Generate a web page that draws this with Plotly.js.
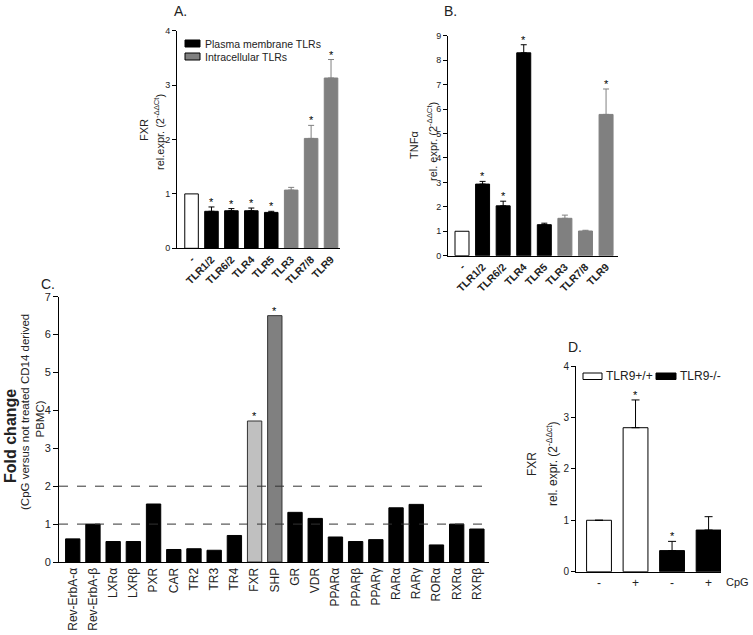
<!DOCTYPE html>
<html>
<head>
<meta charset="utf-8">
<script src="https://cdn.plot.ly/plotly-3.0.1.min.js"></script>
<style>html,body{margin:0;padding:0;background:#fff;}#chart{width:753px;height:635px;}</style>
</head>
<body>
<div id="chart"></div>
<script>
// ---------- Panel A: FXR expression after TLR agonists ----------
const aCats  = ['-', 'TLR1/2', 'TLR6/2', 'TLR4', 'TLR5', 'TLR3', 'TLR7/8', 'TLR9'];
const aVals  = [1.00, 0.68, 0.69, 0.69, 0.66, 1.07, 2.02, 3.13];
const aErr   = [0, 0.08, 0.04, 0.05, 0.02, 0.05, 0.24, 0.34];
const aGroup = [0, 1, 1, 1, 1, 2, 2, 2];
const aSig   = [0, 1, 1, 1, 1, 0, 1, 1];
const aLegend = ['Plasma membrane TLRs', 'Intracellular TLRs'];

// ---------- Panel B: TNFα expression after TLR agonists ----------
const bCats  = ['-', 'TLR1/2', 'TLR6/2', 'TLR4', 'TLR5', 'TLR3', 'TLR7/8', 'TLR9'];
const bVals  = [1.00, 2.93, 2.04, 8.30, 1.27, 1.53, 1.01, 5.78];
const bErr   = [0, 0.11, 0.19, 0.33, 0.06, 0.13, 0.03, 1.04];
const bGroup = [0, 1, 1, 1, 1, 2, 2, 2];
const bSig   = [0, 1, 1, 1, 0, 0, 0, 1];

// ---------- Panel C: nuclear receptor fold change ----------
const cCats  = ['Rev-ErbA-α', 'Rev-ErbA-β', 'LXRα', 'LXRβ', 'PXR', 'CAR', 'TR2', 'TR3', 'TR4', 'FXR', 'SHP',
                'GR', 'VDR', 'PPARα', 'PPARβ', 'PPARγ', 'RARα', 'RARγ', 'RORα', 'RXRα', 'RXRβ'];
const cVals  = [0.61, 1.00, 0.54, 0.54, 1.53, 0.33, 0.35, 0.31, 0.70, 3.72, 6.50,
                1.31, 1.15, 0.66, 0.54, 0.59, 1.43, 1.52, 0.45, 1.00, 0.87];
const cGroup = [0, 0, 0, 0, 0, 0, 0, 0, 0, 1, 2, 0, 0, 0, 0, 0, 0, 0, 0, 0, 0];
const cSig   = [0, 0, 0, 0, 0, 0, 0, 0, 0, 1, 1, 0, 0, 0, 0, 0, 0, 0, 0, 0, 0];
const cRefLines = [1, 2];

// ---------- Panel D: TLR9+/+ vs TLR9-/- ----------
const dTicks = ['-', '+', '-', '+'];
const dVals  = [1.00, 2.80, 0.41, 0.81];
const dErr   = [0, 0.54, 0.18, 0.26];
const dGroup = [0, 0, 1, 1];
const dSig   = [0, 1, 1, 0];
const dLegend = ['TLR9+/+', 'TLR9-/-'];

const FONT = 'Liberation Sans, Arial, sans-serif';
const TXT = '#222';
const W = 753, H = 635;

function idx(n){ return Array.from({length:n}, (_, i) => i); }

function groupTrace(vals, errs, groups, g, xa, ya, style){
  const xs = [], ys = [], es = [];
  vals.forEach((v, i) => { if (groups[i] === g) { xs.push(i); ys.push(v); es.push(errs ? errs[i] : 0); } });
  const t = {
    type: 'bar', x: xs, y: ys, xaxis: xa, yaxis: ya, width: style.width,
    marker: {color: style.fill, line: {color: style.line, width: 1}},
    name: style.name || '', showlegend: false, hoverinfo: 'skip'
  };
  if (errs && style.err) {
    t.error_y = {type: 'data', symmetric: false, array: es, arrayminus: es.map(() => 0),
                 color: style.err, thickness: 1, width: style.capw || 3};
  }
  return t;
}

const traces = [];
// A
traces.push(groupTrace(aVals, null, aGroup, 0, 'x', 'y', {width: 0.68, fill: '#fff', line: '#000'}));
traces.push(groupTrace(aVals, aErr, aGroup, 1, 'x', 'y', {width: 0.68, fill: '#000', line: '#000', err: '#000', name: aLegend[0]}));
traces.push(groupTrace(aVals, aErr, aGroup, 2, 'x', 'y', {width: 0.68, fill: '#808080', line: '#808080', err: '#808080', name: aLegend[1]}));
// B
traces.push(groupTrace(bVals, null, bGroup, 0, 'x2', 'y2', {width: 0.68, fill: '#fff', line: '#000'}));
traces.push(groupTrace(bVals, bErr, bGroup, 1, 'x2', 'y2', {width: 0.68, fill: '#000', line: '#000', err: '#000'}));
traces.push(groupTrace(bVals, bErr, bGroup, 2, 'x2', 'y2', {width: 0.68, fill: '#808080', line: '#808080', err: '#808080'}));
// C
traces.push(groupTrace(cVals, null, cGroup, 0, 'x3', 'y3', {width: 0.71, fill: '#000', line: '#000'}));
traces.push(groupTrace(cVals, null, cGroup, 1, 'x3', 'y3', {width: 0.71, fill: '#c0c0c0', line: '#333'}));
traces.push(groupTrace(cVals, null, cGroup, 2, 'x3', 'y3', {width: 0.71, fill: '#808080', line: '#333'}));
// D
traces.push(groupTrace(dVals, dErr, dGroup, 0, 'x4', 'y4', {width: 0.68, fill: '#fff', line: '#000', err: '#000', capw: 4, name: dLegend[0]}));
traces.push(groupTrace(dVals, dErr, dGroup, 1, 'x4', 'y4', {width: 0.68, fill: '#000', line: '#000', err: '#000', capw: 4, name: dLegend[1]}));

const annotations = [];
function stars(vals, errs, sig, xa, ya){
  vals.forEach((v, i) => {
    if (sig[i]) annotations.push({xref: xa, yref: ya, x: i, y: v + (errs ? errs[i] : 0), text: '*',
      showarrow: false, yanchor: 'bottom', yshift: -3, font: {size: 11, color: '#000', family: FONT}});
  });
}
stars(aVals, aErr, aSig, 'x', 'y');
stars(bVals, bErr, bSig, 'x2', 'y2');
stars(cVals, null, cSig, 'x3', 'y3');
stars(dVals, dErr, dSig, 'x4', 'y4');

function pt(px, py, text, opts){
  annotations.push(Object.assign({xref: 'paper', yref: 'paper', x: px / W, y: 1 - py / H, text: text,
    showarrow: false, xanchor: 'center', yanchor: 'middle', font: {size: 11, color: TXT, family: FONT}}, opts || {}));
}
// panel letters
pt(180, 11, 'A.', {font: {size: 14, color: TXT, family: FONT}});
pt(450, 11, 'B.', {font: {size: 14, color: TXT, family: FONT}});
pt(48, 284, 'C.', {font: {size: 14, color: TXT, family: FONT}});
pt(575, 347, 'D.', {font: {size: 14, color: TXT, family: FONT}});
// axis titles
pt(144, 130, 'FXR', {textangle: -90});
pt(159, 132, 'rel.expr. (2<sup>-ΔΔCt</sup>)', {textangle: -90});
pt(414, 145, 'TNFα', {textangle: -90});
pt(432, 142, 'rel. expr. (2<sup>-ΔΔCt</sup>)', {textangle: -90});
pt(10, 436, '<b>Fold change</b>', {textangle: -90, font: {size: 16, color: TXT, family: FONT}});
pt(25, 412, '(CpG versus not treated CD14 derived', {textangle: -90, font: {size: 11.5, color: TXT, family: FONT}});
pt(39, 440, 'PBMC)', {textangle: -90, yanchor: 'bottom', font: {size: 11.5, color: TXT, family: FONT}});
pt(532, 464, 'FXR', {textangle: -90, font: {size: 12, color: TXT, family: FONT}});
pt(552, 464, 'rel. expr. (2<sup>-ΔΔct</sup>)', {textangle: -90, font: {size: 12, color: TXT, family: FONT}});
pt(751, 582, 'CpG', {xanchor: 'right', font: {size: 11, color: TXT, family: FONT}});

// legends (keys + labels), A and D
const shapes = [];
function key(x0, x1, y0, y1, fill){
  shapes.push({type: 'rect', xref: 'paper', yref: 'paper', x0: x0 / W, x1: x1 / W, y0: 1 - y1 / H, y1: 1 - y0 / H,
    fillcolor: fill, line: {color: '#000', width: 1}, layer: 'above'});
}
key(185, 200, 40, 47, '#000');
key(185, 200, 53, 60, '#808080');
pt(203, 43.5, aLegend[0], {xanchor: 'left', font: {size: 10.5, color: TXT, family: FONT}});
pt(203, 56.5, aLegend[1], {xanchor: 'left', font: {size: 10.5, color: TXT, family: FONT}});
key(583, 602, 373, 379.5, '#fff');
key(656, 676, 373, 379.5, '#000');
pt(604, 376, dLegend[0], {xanchor: 'left', font: {size: 12, color: TXT, family: FONT}});
pt(678, 376, dLegend[1], {xanchor: 'left', font: {size: 12, color: TXT, family: FONT}});

cRefLines.forEach(v => shapes.push({type: 'line', xref: 'x3 domain', yref: 'y3', x0: 0, x1: 0.99, y0: v, y1: v,
  line: {color: '#333', width: 1, dash: 'dash'}, layer: 'above'}));

function xax(dom, range, n, ticktext, extra){
  return Object.assign({domain: dom, range: range, tickmode: 'array', tickvals: idx(n), ticktext: ticktext,
    showline: true, linecolor: '#000', linewidth: 1, ticks: '', showgrid: false, zeroline: false,
    automargin: false, fixedrange: true}, extra || {});
}
function yax(dom, range, extra){
  return Object.assign({domain: dom, range: range, dtick: 1, tick0: 0, showline: true, linecolor: '#000', linewidth: 1,
    ticks: 'outside', ticklen: 4, tickcolor: '#000', showgrid: false, zeroline: false, automargin: false,
    fixedrange: true, tickfont: {size: 9, color: TXT, family: FONT}}, extra || {});
}

const layout = {
  width: W, height: H, margin: {l: 0, r: 0, t: 0, b: 0},
  paper_bgcolor: '#fff', plot_bgcolor: 'rgba(0,0,0,0)',
  barmode: 'overlay', showlegend: false, font: {family: FONT, color: TXT},
  xaxis: xax([177/W, 340/W], [-0.73, 7.45], aCats.length, aCats,
    {anchor: 'y', tickangle: -45, tickfont: {size: 10.5, weight: 'bold', color: TXT, family: FONT}}),
  yaxis: yax([1 - 248.3/H, 1 - 30.7/H], [0, 4], {anchor: 'x'}),
  xaxis2: xax([448/W, 618/W], [-0.68, 7.58], bCats.length, bCats,
    {anchor: 'y2', tickangle: -45, tickfont: {size: 10.5, weight: 'bold', color: TXT, family: FONT}}),
  yaxis2: yax([1 - 255.7/H, 1 - 35.7/H], [0, 9], {anchor: 'x2'}),
  xaxis3: xax([59/W, 489/W], [-0.68, 20.6], cCats.length, cCats,
    {anchor: 'y3', tickangle: -90, tickfont: {size: 12, color: TXT, family: FONT}}),
  yaxis3: yax([1 - 562/H, 1 - 296.7/H], [0, 7], {anchor: 'x3', ticklen: 5, tickfont: {size: 11, color: TXT, family: FONT}}),
  xaxis4: xax([576/W, 721/W], [-0.63, 3.34], dTicks.length, dTicks,
    {anchor: 'y4', tickfont: {size: 12, color: TXT, family: FONT}}),
  yaxis4: yax([1 - 571.7/H, 1 - 366/H], [0, 4], {anchor: 'x4', tickfont: {size: 10, color: TXT, family: FONT}}),
  annotations: annotations,
  shapes: shapes
};

Plotly.newPlot('chart', traces, layout, {staticPlot: true, displayModeBar: false});
</script>
</body>
</html>
